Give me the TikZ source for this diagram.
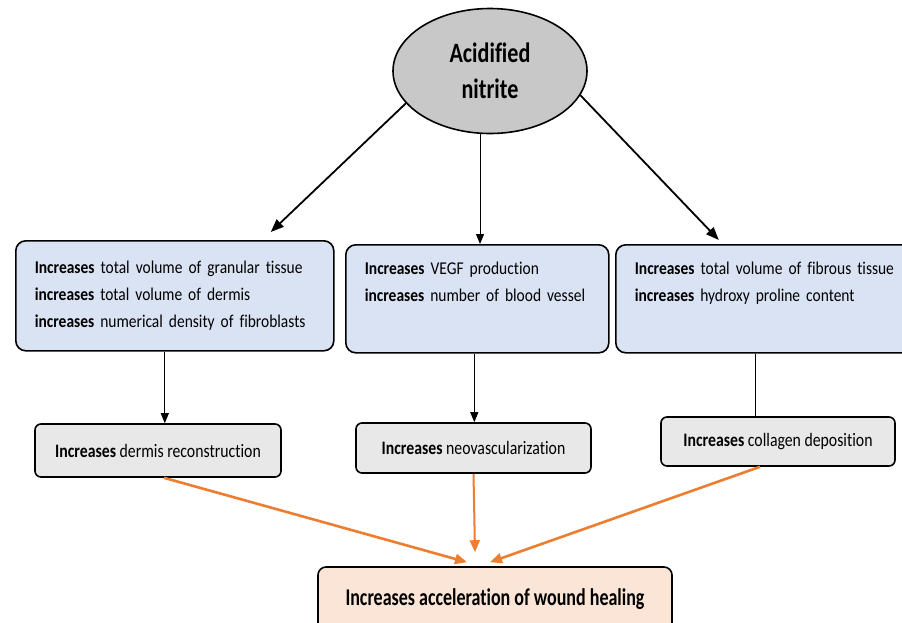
\documentclass[tikz,border=0pt]{standalone}
\usepackage{fontspec}
\setmainfont{Carlito}[Ligatures=NoCommon]
\newfontfamily\efffont{Carlito}[Ligatures=NoCommon, FakeStretch=0.86]
\newfontfamily\resfont{Carlito}[Ligatures=NoCommon, FakeStretch=0.83]
\newfontfamily\finfont{Carlito}[Ligatures=NoCommon, FakeStretch=0.75]
\newfontfamily\srcfont{Carlito}[Ligatures=NoCommon, FakeStretch=0.79]
\usetikzlibrary{shapes.geometric, arrows.meta, positioning, calc}

\definecolor{effblue}{HTML}{DAE3F3}
\definecolor{resgray}{HTML}{E8E8E8}
\definecolor{finpeach}{HTML}{FBE5D6}
\definecolor{srcgray}{HTML}{C8C8C8}
\definecolor{healorange}{HTML}{ED7D31}

\begin{document}
\begin{tikzpicture}[
    x=1pt, y=-1pt,
    box/.style={rectangle, draw, line width=1.6pt, align=left, inner xsep=19pt, inner ysep=0pt},
    effectbox/.style={box, rounded corners=10pt, fill=effblue, minimum height=108pt, anchor=north west, font=\efffont\fontsize{18}{27}\selectfont},
    resultbox/.style={box, rounded corners=6pt, fill=resgray, align=center, font=\resfont\fontsize{19}{21}\selectfont},
    finalbox/.style={box, rounded corners=8pt, fill=finpeach, align=center, font=\finfont\fontsize{24}{26}\selectfont\bfseries},
    source/.style={ellipse, draw, line width=1.6pt, fill=srcgray, minimum width=194pt, minimum height=125pt, align=center, font=\srcfont\fontsize{28}{36}\selectfont\bfseries},
    arrow/.style={-{Triangle[length=13pt, width=10pt]}, line width=1.8pt},
    thinarrow/.style={-{Triangle[length=10pt, width=8pt]}, line width=1pt},
    healarrow/.style={-{Triangle[length=12pt, width=10pt]}, line width=2.6pt, draw=healorange, healorange}
]
\useasboundingbox (0,0) rectangle (902,622);

% source
\node[source] (acid) at (490,71) {Acidified\\nitrite};

% first level effects
\node[effectbox, text width=280pt, minimum height=110pt] (eff1) at (15,240)
    {\textbf{Increases} total volume of granular tissue\\
     \textbf{increases} total volume of dermis\\
     \textbf{increases} numerical density of fibroblasts};
\node[effectbox, text width=225pt] (eff2) at (345,244)
    {\textbf{Increases} VEGF production\\
     \textbf{increases} number of blood vessel\\ \strut};
\node[effectbox, text width=280pt] (eff3) at (615,244)
    {\textbf{Increases} total volume of fibrous tissue\\
     \textbf{increases} hydroxy proline content\\ \strut};

\draw[arrow] (acid.201) -- ($(eff1.north)+(96,-8)$);
\draw[thinarrow] (acid.261) -- (acid.261 |- eff2.north);
\draw[arrow] (acid.345) -- ($(eff3.north)+(-56,-4)$);

% second level results
\node[resultbox, minimum width=246pt, minimum height=53pt] (res1) at (158,450.5)
    {\textbf{Increases} dermis reconstruction};
\node[resultbox, minimum width=235pt, minimum height=50pt] (res2) at (473.5,448)
    {\textbf{Increases} neovascularization};
\node[resultbox, minimum width=234pt, minimum height=49pt] (res3) at (778,441.5)
    {\textbf{Increases} collagen deposition};

\coordinate (down1) at ($(eff1.south)+(-10,0)$);
\coordinate (down2) at ($(eff2.south)+(-3,0)$);
\coordinate (down3) at ($(eff3.south)+(-19,0)$);
\draw[thinarrow] (down1) -- (down1 |- res1.north);
\draw[thinarrow] (down2) -- (down2 |- res2.north);
\draw[line width=1pt] (down3) -- (down3 |- res3.north);

% outcome
\node[finalbox, minimum width=354pt, minimum height=65pt] (final) at (495,599.5)
    {Increases acceleration of wound healing};

\coordinate (up1) at ($(res1.south)+(6,0)$);
\coordinate (up3) at ($(res3.south)+(-18,0)$);
\draw[healarrow] (up1) -- ($(final.north)+(-28,-4)$);
\draw[healarrow, line width=2pt] (res2.south) -- ($(final.north)+(-20,-14)$);
\draw[healarrow] (up3) -- ($(final.north)+(-5,-4)$);
\end{tikzpicture}
\end{document}
